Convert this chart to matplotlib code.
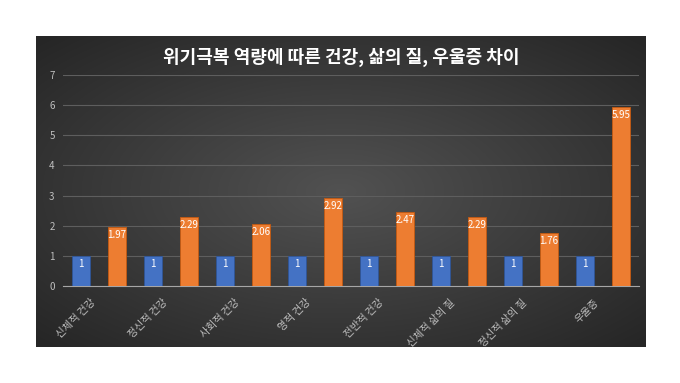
import numpy as np
import matplotlib
matplotlib.use("Agg")
import matplotlib.pyplot as plt
import matplotlib.transforms as mtransforms

plt.rcParams['font.family'] = ['Noto Sans CJK KR', 'DejaVu Sans']

categories = ['신체적 건강', '정신적 건강', '사회적 건강', '영적 건강',
              '전반적 건강', '신체적 삶의 질', '정신적 삶의 질', '우울증']
blue_values = [1, 1, 1, 1, 1, 1, 1, 1]
orange_values = [1.97, 2.29, 2.06, 2.92, 2.47, 2.29, 1.76, 5.95]
title = '위기극복 역량에 따른 건강, 삶의 질, 우울증 차이'

fig = plt.figure(figsize=(6.8, 3.83), dpi=100)
fig.patch.set_facecolor('white')

# dark panel with a soft radial gradient
bg = fig.add_axes([36 / 680, 36 / 383, 610 / 680, 311 / 383])
yy, xx = np.mgrid[-1:1:200j, -1:1:400j]
r = np.clip(np.sqrt((xx * 0.9) ** 2 + (yy * 0.9) ** 2), 0, 1.25) / 1.25
shade = 0.32 - 0.17 * r
img = np.dstack([shade, shade, shade])
bg.imshow(img, aspect='auto', extent=[0, 1, 0, 1], interpolation='bilinear')
bg.set_axis_off()
bg.text(0.5, 0.93, title, transform=bg.transAxes, ha='center', va='center',
        color='white', fontsize=13, fontweight='bold')

ax = fig.add_axes([63 / 680, 97 / 383, 576 / 680, 211 / 383])
ax.patch.set_alpha(0)

x = np.arange(len(categories))
w = 0.25
b1 = ax.bar(x - w, blue_values, w, color='#4472C4', edgecolor='#2f5597',
            linewidth=0.6, zorder=3)
b2 = ax.bar(x + w, orange_values, w, color='#ED7D31', edgecolor='#c55a11',
            linewidth=0.6, zorder=3)

for bars, vals in ((b1, blue_values), (b2, orange_values)):
    for rect, v in zip(bars, vals):
        ax.text(rect.get_x() + rect.get_width() / 2, v - 0.1, f'{v:g}',
                ha='center', va='top', color='white', fontsize=7, zorder=4)

ax.set_xlim(-0.5, len(categories) - 0.5)
ax.set_ylim(0, 7)
ax.set_yticks(range(0, 8))
ax.grid(axis='y', color='#5e5e5e', linewidth=0.8, zorder=0)
for s in ('top', 'right', 'left'):
    ax.spines[s].set_visible(False)
ax.spines['bottom'].set_color('#a6a6a6')
ax.spines['bottom'].set_linewidth(0.8)
ax.tick_params(axis='y', length=0, labelcolor='#bfbfbf', labelsize=7, pad=6)
ax.tick_params(axis='x', length=0, labelcolor='#bfbfbf', labelsize=7.5, pad=8)
ax.set_xticks(x)
ax.set_xticklabels(categories, rotation=45, ha='right', rotation_mode='anchor')
offset = mtransforms.ScaledTranslation(-0.09, 0, fig.dpi_scale_trans)
for lab in ax.get_xticklabels():
    lab.set_transform(lab.get_transform() + offset)

fig.savefig('out.png', dpi=100, facecolor='white')
